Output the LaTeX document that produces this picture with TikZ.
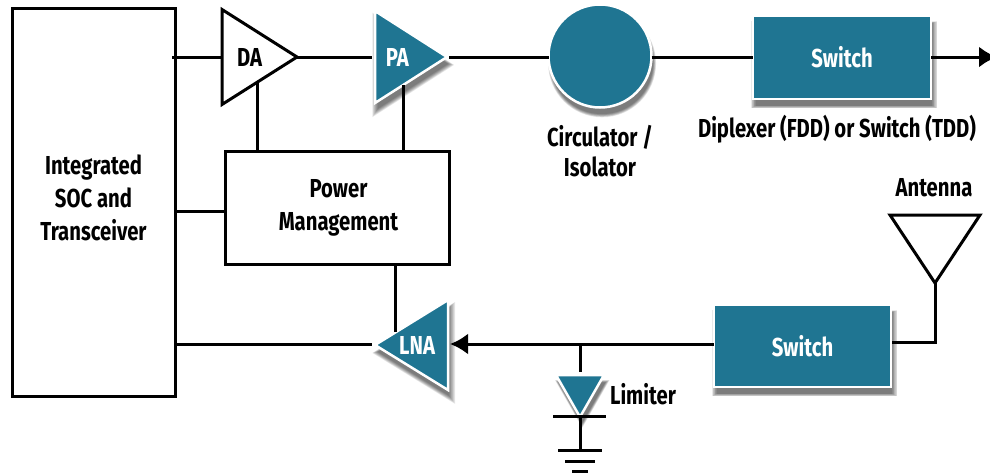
\documentclass[tikz,border=0pt]{standalone}
\usepackage{fontspec}
\setmainfont[FakeStretch=0.78]{Fira Sans}
\usetikzlibrary{shapes.geometric,shadows,arrows.meta}
\definecolor{rfteal}{HTML}{1F7592}
\tikzset{
	wire/.style={line width=3pt,black},
	arrowwire/.style={wire,-{Latex[length=18pt,width=21pt]}},
	lbl/.style={font=\bfseries\fontsize{26}{33}\selectfont,align=center,inner sep=0pt,outer sep=0pt},
	plainbox/.style={draw=black,line width=3pt,fill=white,lbl,anchor=north west},
	softlayer/.style={general shadow={fill=black,draw=none,opacity=0.085,shadow xshift=2pt,shadow yshift=-7pt,shadow scale=#1}},
	tealshadow/.style={softlayer=1+3*#1,softlayer=1+2.5*#1,softlayer=1+2*#1,softlayer=1+1.5*#1,softlayer=1+#1,softlayer=1+0.5*#1,softlayer=1,softlayer=1-0.5*#1},
	tealbox/.style={draw=white,line width=2.5pt,fill=rfteal,text=white,lbl,anchor=north west,tealshadow=0.016},
	tri/.style={isosceles triangle,isosceles triangle stretches,anchor=apex,lbl},
	plainamp/.style={tri,draw=black,line width=3pt,fill=white},
	tealamp/.style={tri,draw=white,line width=2.5pt,fill=rfteal,text=white,tealshadow=0.045}
}
\begin{document}
\begin{tikzpicture}[x=1pt,y=-1pt]
	  \clip (0,0) rectangle (990,474);
	  % Define nodes
	  \node[plainbox, minimum width=163pt, minimum height=388pt, label={[lbl,yshift=4pt]center:{Integrated\\SOC and\\Transceiver}}] (SOC) at (12,8) {};
	  \node[plainbox, minimum width=224pt, minimum height=113pt] (PM) at (225,151) {\hspace*{3pt}Power\\\hspace*{3pt}Management};
	  \node[plainamp, minimum width=95pt, minimum height=75pt] (DA) at (297,57) {\hspace*{4pt}DA};
	  \node[tealamp, minimum width=92pt, minimum height=72pt] (PA) at (447,57) {PA\kern4pt};
	  \node[tealamp, shape border rotate=180, minimum width=90pt, minimum height=73pt] (LNA) at (375,345) {\raisebox{-2pt}{LNA\kern8pt}};
	  \node[tealbox, circle, anchor=center, minimum size=103pt] (CIRC) at (600,56) {};
	  \node[tealbox, minimum width=178pt, minimum height=83pt] (SW1) at (753,16) {\raisebox{-1pt}{Switch}};
	  \node[tealbox, minimum width=177pt, minimum height=82pt] (SW2) at (714,305) {Switch};
	  \node[tealamp, shape border rotate=-90, minimum width=48pt, minimum height=42pt] (LIM) at (580,417) {};
	  \node[plainamp, shape border rotate=-90, minimum width=90pt, minimum height=68pt] (ANT) at (935,283) {};

	  % Text labels
	  \node[lbl] (CIRClbl) at (600,151) {Circulator /\\[-3pt]Isolator};
	  \node[lbl] (SWlbl) at (837,129) {Diplexer (FDD) or Switch (TDD)};
	  \node[lbl] (ANTlbl) at (934,188) {Antenna};
	  \node[lbl] (LIMlbl) at (643,394) {Limiter};

	  % Helper points
	  \coordinate (DAbias) at (257,83);
	  \coordinate (PAbias) at (403,85);
	  \coordinate (LNAbias) at (395,332);
	  \coordinate (SOCin) at (172,57);
	  \coordinate (SOCpm) at (175,211);
	  \coordinate (PAin) at (372,57);
	  \coordinate (PAout) at (449,57);
	  \coordinate (TXout) at (997,57);
	  \coordinate (LNAout) at (372,344);
	  \coordinate (RXtap) at (580,344);
	  \coordinate (LIMtop) at (580,372);
	  \coordinate (LIMbarL) at (553,416);
	  \coordinate (LIMbarR) at (606,416);
	  \coordinate (GNDtop) at (580,450);
	  \coordinate (G1L) at (558,450);
	  \coordinate (G1R) at (602,450);
	  \coordinate (G2L) at (565,461);
	  \coordinate (G2R) at (595,461);
	  \coordinate (G3L) at (572,471);
	  \coordinate (G3R) at (588,471);
	  \coordinate (RXin) at (450,344);
	  \coordinate (ANTjog) at (935,342);
	  \coordinate (SW2out) at (892,342);

	  % Connect the nodes
	  \draw[wire] (SOCin) -- (SOCin -| DA.lower side);
	  \draw[wire] (DA.apex) -- (PAin);
	  \draw[wire] (PAout) -- (CIRC.west |- PAout);
	  \draw[wire] (CIRC.east |- PAout) -- (SW1.west |- PAout);
	  \draw[arrowwire] (SW1.east |- TXout) -- (TXout);
	  \draw[wire] (DAbias) -- (DAbias |- PM.north);
	  \draw[wire] (PAbias) -- (PAbias |- PM.north);
	  \draw[wire] (LNAbias) -- (LNAbias |- PM.south);
	  \draw[wire] (SOCpm) -- (SOCpm -| PM.west);
	  \draw[wire] (SOC.east |- LNAout) -- (LNAout);
	  \draw[arrowwire] (SW2.west |- RXin) -- (RXin);
	  \draw[wire] (RXtap) -- (LIMtop);
	  \draw[wire] (LIMbarL) -- (LIMbarR);
	  \draw[wire] (LIMbarL -| GNDtop) -- (GNDtop);
	  \draw[wire] (G1L) -- (G1R);
	  \draw[wire] (G2L) -- (G2R);
	  \draw[wire] (G3L) -- (G3R);
	  \draw[wire] (ANT.apex) -- (ANTjog) -- (SW2out);
	\end{tikzpicture}
\end{document}
